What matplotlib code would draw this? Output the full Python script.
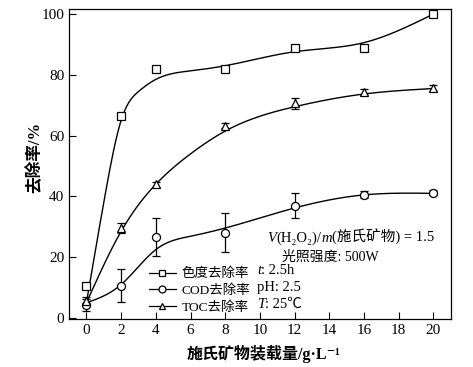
import numpy as np
import matplotlib
matplotlib.use("Agg")
import matplotlib.pyplot as plt
from matplotlib.offsetbox import TextArea, HPacker, AnnotationBbox

FONT = ['Liberation Serif', 'Noto Sans CJK SC', 'DejaVu Serif']
plt.rcParams['font.family'] = FONT
plt.rcParams['font.size'] = 10

# measured points
x = [0, 2, 4, 8, 12, 16, 20]
color_rm = [10.6, 66.4, 82.0, 82.0, 88.8, 88.7, 100.0]
cod_rm = [4.3, 10.6, 26.6, 28.1, 36.9, 40.6, 41.2]
cod_err = [2.0, 5.4, 6.2, 6.3, 4.1, 1.2, 0.8]
toc_rm = [5.6, 29.5, 44.0, 63.2, 70.6, 74.5, 75.8]
toc_err = [1.2, 1.6, 0.8, 0.8, 1.9, 1.0, 1.0]

# fitted curves
cx_color = [0, 1, 2, 3, 4, 6, 8, 12, 16, 20]
cy_color = [5, 38, 65, 74.5, 78.5, 81.3, 83, 87.6, 90.6, 100]
cx_toc = [0, 2, 4, 6, 8, 12, 16, 20]
cy_toc = [5, 28.5, 44, 54, 61.5, 69.5, 73.7, 75.5]
cx_cod = [0, 2, 4, 6, 8, 12, 16, 20]
cy_cod = [5, 11, 22.5, 26.9, 29.6, 36.2, 40.5, 41]


def spline(xs, ys, n=300):
    # natural cubic spline, just for drawing
    xs = np.asarray(xs, float)
    ys = np.asarray(ys, float)
    N = len(xs)
    h = np.diff(xs)
    A = np.zeros((N, N))
    r = np.zeros(N)
    A[0, 0] = A[-1, -1] = 1
    for i in range(1, N - 1):
        A[i, i - 1] = h[i - 1]
        A[i, i] = 2 * (h[i - 1] + h[i])
        A[i, i + 1] = h[i]
        r[i] = 6 * ((ys[i + 1] - ys[i]) / h[i] - (ys[i] - ys[i - 1]) / h[i - 1])
    M = np.linalg.solve(A, r)
    xx = np.linspace(xs[0], xs[-1], n)
    k = np.clip(np.searchsorted(xs, xx) - 1, 0, N - 2)
    t1 = xs[k + 1] - xx
    t0 = xx - xs[k]
    hk = h[k]
    yy = (M[k] * t1**3 + M[k + 1] * t0**3) / (6 * hk) \
        + (ys[k] / hk - M[k] * hk / 6) * t1 + (ys[k + 1] / hk - M[k + 1] * hk / 6) * t0
    return xx, yy


fig = plt.figure(figsize=(4.73, 3.67), dpi=100)
ax = fig.add_axes([0.146, 0.131, 0.807, 0.844])

for cx, cy in [(cx_color, cy_color), (cx_toc, cy_toc), (cx_cod, cy_cod)]:
    xx, yy = spline(cx, cy)
    ax.plot(xx, yy, color='black', lw=1.0)

mk = dict(mfc='white', mec='black', mew=0.9, color='black')
eb = dict(capsize=2.8, elinewidth=0.9, capthick=0.9, zorder=3)
ax.errorbar(x, cod_rm, yerr=cod_err, fmt='o', ms=5.8, **eb, **mk)
ax.errorbar(x, toc_rm, yerr=toc_err, fmt='^', ms=5.8, **eb, **mk)
ax.plot(x, color_rm, 's', ms=5.3, zorder=3, **mk)

# legend handles
h1, = ax.plot([], [], '-s', lw=0.9, ms=5, **mk)
h2, = ax.plot([], [], '-o', lw=0.9, ms=5, **mk)
h3, = ax.plot([], [], '-^', lw=0.9, ms=5, **mk)
ax.legend([h1, h2, h3], ['色度去除率', 'COD去除率', 'TOC去除率'], loc='upper left',
          bbox_to_anchor=(0.195, 0.183), frameon=False, handlelength=2.0,
          handletextpad=0.45, labelspacing=0.3, borderaxespad=0, fontsize=9.7)


def rich(parts, xy, ha=0.0, size=10):
    boxes = []
    for s, it in parts:
        boxes.append(TextArea(s, textprops=dict(family=FONT, size=size,
                                                style='italic' if it else 'normal')))
    pack = HPacker(children=boxes, align='baseline', pad=0, sep=0)
    ab = AnnotationBbox(pack, xy, xycoords='data', frameon=False, box_alignment=(ha, 0.5))
    ax.add_artist(ab)


rich([('t', True), (': 2.5h', False)], (9.85, 15.5), size=10.5)
rich([('pH: 2.5', False)], (9.85, 9.9), size=10.5)
rich([('T', True), (': 25℃', False)], (9.85, 4.6), size=10.5)
rich([('V', True), ('(H₂O₂)/', False), ('m', True), ('(施氏矿物) = 1.5', False)],
     (10.45, 26.6), size=10.5)
ax.text(11.3, 20.2, '光照强度: 500W', ha='left', va='center', fontsize=10)

ax.set_xlim(-1, 21)
ax.set_ylim(-0.3, 101.6)
ax.set_xticks(range(0, 21, 2))
ax.set_yticks(range(0, 101, 20))
ax.tick_params(direction='in', length=5, width=0.8, labelsize=11, top=False, right=False)
for s in ax.spines.values():
    s.set_linewidth(0.9)
ax.set_xlabel('施氏矿物装载量/g·L⁻¹', fontsize=11.5, fontweight='bold')
ax.set_ylabel('去除率/%', fontsize=12, fontweight='bold')
ax.xaxis.set_label_coords(0.51, -0.083)
ax.yaxis.set_label_coords(-0.067, 0.52)

fig.savefig('out.png', dpi=100)
